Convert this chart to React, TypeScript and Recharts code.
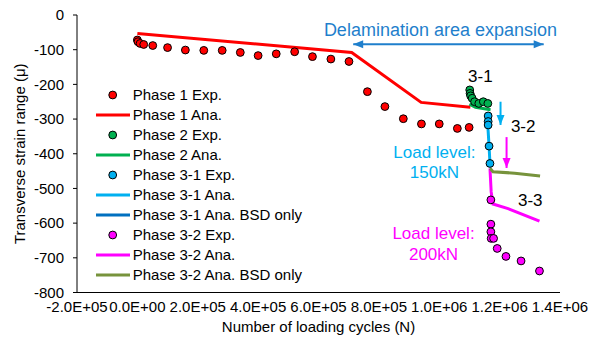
import { ScatterChart, Scatter, XAxis, YAxis, Legend, ReferenceDot, ReferenceLine, Label } from "recharts";

const phase1ExpX = [0, 2000, 9000, 21000, 51000, 100000, 159000, 220000, 281000, 341000, 400000, 460000, 521000, 580000, 641000, 701000, 762000, 820000, 881000, 941000, 1000000, 1060000, 1099000];
const phase1ExpY = [-72, -77, -82, -85, -88, -94, -101, -102, -102, -108, -117, -112, -106, -120, -127, -134, -221, -264, -299, -314, -314, -327, -324];
const phase1AnaX = [0, 710000, 940000, 1103000];
const phase1AnaY = [-53, -108, -252, -266];
const phase2ExpX = [1101000, 1102000, 1104000, 1109000, 1117000, 1131000, 1146000, 1161000];
const phase2ExpY = [-216, -226, -233, -240, -250, -255, -250, -255];
const phase2AnaX = [1100000, 1120000, 1170000];
const phase2AnaY = [-257, -266, -273];
const phase31ExpX = [1162000, 1162000, 1162000, 1165000, 1168000];
const phase31ExpY = [-291, -307, -317, -378, -428];
const phase31AnaX = [1160000, 1162000, 1165000, 1168000];
const phase31AnaY = [-310, -335, -378, -428];
const phase31BsdX: number[] = [];
const phase31BsdY: number[] = [];
const phase32ExpX = [1171000, 1171000, 1171000, 1172000, 1180000, 1192000, 1221000, 1271000, 1332000];
const phase32ExpY = [-533, -603, -625, -644, -644, -673, -696, -709, -738];
const phase32AnaX = [1168000, 1172000, 1178000, 1228000, 1332000];
const phase32AnaY = [-442, -510, -545, -558, -594];
const phase32BsdX = [1168000, 1178000, 1250000, 1334000];
const phase32BsdY = [-442, -452, -456, -464];

const xTicks = [-200000, 0, 200000, 400000, 600000, 800000, 1000000, 1200000, 1400000];
const yTicks = [-800, -700, -600, -500, -400, -300, -200, -100, 0];

const seriesNames = ["Phase 1 Exp.", "Phase 1 Ana.", "Phase 2 Exp.", "Phase 2 Ana.", "Phase 3-1 Exp.", "Phase 3-1 Ana.", "Phase 3-1 Ana. BSD only", "Phase 3-2 Exp.", "Phase 3-2 Ana.", "Phase 3-2 Ana. BSD only"];
const seriesKinds = ["dot", "line", "dot", "line", "dot", "line", "line", "dot", "line", "line"];
const seriesColors = ["#FF0000", "#FF0000", "#00B050", "#00B050", "#00B0F0", "#00B0F0", "#0070C0", "#FF00FF", "#FF00FF", "#77933C"];

const zip = (xs: number[], ys: number[]) => xs.map((x, i) => ({ x, y: ys[i] }));

const FONT = "'Liberation Sans', Arial, sans-serif";

const fmtExp = (v: number) => {
  const [m, e] = v.toExponential(1).split("e");
  const n = parseInt(e, 10);
  return `${m}E${n < 0 ? "-" : "+"}${String(Math.abs(n)).padStart(2, "0")}`;
};

const Dot = (color: string) => (p: any) => (
  <circle cx={p.cx} cy={p.cy} r={3.9} fill={color} stroke="#000" strokeWidth={1} />
);
const NoDot = () => <g />;

const head = (x: number, y: number, fx: number, fy: number, color: string) => {
  const dx = x - fx, dy = y - fy;
  const len = Math.sqrt(dx * dx + dy * dy) || 1;
  const ux = dx / len, uy = dy / len;
  const L = 10, W = 4;
  const bx = x - ux * L, by = y - uy * L;
  return <polygon points={`${x},${y} ${bx - uy * W},${by + ux * W} ${bx + uy * W},${by - ux * W}`} fill={color} />;
};

const Arrow = (color: string, both: boolean) => (p: any) => {
  const { x1, y1, x2, y2 } = p;
  return (
    <g>
      <line x1={x1} y1={y1} x2={x2} y2={y2} stroke={color} strokeWidth={2} />
      {head(x2, y2, x1, y1, color)}
      {both && head(x1, y1, x2, y2, color)}
    </g>
  );
};

const LegendBox = () => (
  <svg width={230} height={200} style={{ display: "block" }}>
    {seriesNames.map((name, i) => {
      const cy = 10 + i * 20;
      return (
        <g key={name}>
          {seriesKinds[i] === "dot" ? (
            <circle cx={22.7} cy={cy} r={3.9} fill={seriesColors[i]} stroke="#000" strokeWidth={1} />
          ) : (
            <line x1={6} y1={cy} x2={40} y2={cy} stroke={seriesColors[i]} strokeWidth={3} />
          )}
          <text x={42.7} y={cy + 5.4} fontSize={15} fontFamily={FONT} fill="#000">{name}</text>
        </g>
      );
    })}
  </svg>
);

const note = (x: number, y: number, text: string, color: string, size: number) => (
  <ReferenceDot key={text + y} x={x} y={y} r={0} fill="none" stroke="none"
    label={{ value: text, position: "center", fill: color, fontSize: size, fontFamily: FONT }} />
);

export default function App() {
  const tickStyle = { fontSize: 15, fontFamily: FONT, fill: "#000" };
  return (
    <div style={{ position: "absolute", left: 0, top: 0, background: "#fff" }}>
      <ScatterChart width={596} height={338} margin={{ top: 15, right: 36, left: 0, bottom: 0 }}>
        <XAxis type="number" dataKey="x" domain={[-200000, 1400000]} ticks={xTicks} interval={0}
          tickFormatter={fmtExp} tick={tickStyle} tickLine={false} tickSize={0} tickMargin={9}
          height={45.5} axisLine={{ stroke: "#000" }} allowDataOverflow>
          <Label value="Number of loading cycles (N)" position="insideBottom" offset={6}
            style={{ fontSize: 15, fontFamily: FONT, fill: "#000" }} />
        </XAxis>
        <XAxis xAxisId="top" orientation="top" type="number" dataKey="x" domain={[-200000, 1400000]}
          ticks={xTicks} interval={0} tick={false} tickSize={3} height={0}
          axisLine={{ stroke: "#000" }} tickLine={{ stroke: "#000" }} />
        <YAxis type="number" dataKey="y" domain={[-800, 0]} ticks={yTicks} interval={0} width={77}
          tick={tickStyle} tickSize={4} tickMargin={9} axisLine={{ stroke: "#000" }} tickLine={{ stroke: "#000" }} allowDataOverflow>
          <Label value="Transverse strain range (μ)" angle={-90} position="insideLeft" offset={20}
            style={{ fontSize: 15, fontFamily: FONT, fill: "#000", textAnchor: "middle" }} />
        </YAxis>
        <YAxis yAxisId="right" orientation="right" type="number" dataKey="y" domain={[-800, 0]}
          width={0} tick={false} tickLine={false} axisLine={{ stroke: "#000" }} />

        <Scatter name={seriesNames[1]} data={zip(phase1AnaX, phase1AnaY)} line={{ stroke: seriesColors[1], strokeWidth: 3 }} lineType="joint" shape={NoDot} isAnimationActive={false} />
        <Scatter name={seriesNames[3]} data={zip(phase2AnaX, phase2AnaY)} line={{ stroke: seriesColors[3], strokeWidth: 3 }} lineType="joint" shape={NoDot} isAnimationActive={false} />
        <Scatter name={seriesNames[5]} data={zip(phase31AnaX, phase31AnaY)} line={{ stroke: seriesColors[5], strokeWidth: 3 }} lineType="joint" shape={NoDot} isAnimationActive={false} />
        <Scatter name={seriesNames[6]} data={zip(phase31BsdX, phase31BsdY)} line={{ stroke: seriesColors[6], strokeWidth: 3 }} lineType="joint" shape={NoDot} isAnimationActive={false} />
        <Scatter name={seriesNames[8]} data={zip(phase32AnaX, phase32AnaY)} line={{ stroke: seriesColors[8], strokeWidth: 3 }} lineType="joint" shape={NoDot} isAnimationActive={false} />
        <Scatter name={seriesNames[9]} data={zip(phase32BsdX, phase32BsdY)} line={{ stroke: seriesColors[9], strokeWidth: 3 }} lineType="joint" shape={NoDot} isAnimationActive={false} />

        <Scatter name={seriesNames[0]} data={zip(phase1ExpX, phase1ExpY)} shape={Dot(seriesColors[0])} isAnimationActive={false} />
        <Scatter name={seriesNames[2]} data={zip(phase2ExpX, phase2ExpY)} shape={Dot(seriesColors[2])} isAnimationActive={false} />
        <Scatter name={seriesNames[4]} data={zip(phase31ExpX, phase31ExpY)} shape={Dot(seriesColors[4])} isAnimationActive={false} />
        <Scatter name={seriesNames[7]} data={zip(phase32ExpX, phase32ExpY)} shape={Dot(seriesColors[7])} isAnimationActive={false} />

        <ReferenceLine segment={[{ x: 715000, y: -84.5 }, { x: 1346000, y: -84.5 }]} shape={Arrow("#1F7FCC", true)} />
        <ReferenceLine segment={[{ x: 1203000, y: -250 }, { x: 1203000, y: -317 }]} shape={Arrow("#00B0F0", false)} />
        <ReferenceLine segment={[{ x: 1223000, y: -352 }, { x: 1223000, y: -441 }]} shape={Arrow("#FF00FF", false)} />

        {note(1004000, -42, "Delamination area expansion", "#1F7FCC", 18)}
        {note(1136000, -176, "3-1", "#000", 17)}
        {note(1278000, -319, "3-2", "#000", 17)}
        {note(1301500, -533, "3-3", "#000", 17)}
        {note(984000, -394, "Load level:", "#00B0F0", 17)}
        {note(984000, -452, "150kN", "#00B0F0", 17)}
        {note(981000, -628, "Load level:", "#FF00FF", 17)}
        {note(981000, -689, "200kN", "#FF00FF", 17)}

        <Legend layout="vertical" align="center" verticalAlign="middle" content={LegendBox}
          wrapperStyle={{ left: 90, top: 85, width: 230, height: 200 }} />
      </ScatterChart>
    </div>
  );
}
